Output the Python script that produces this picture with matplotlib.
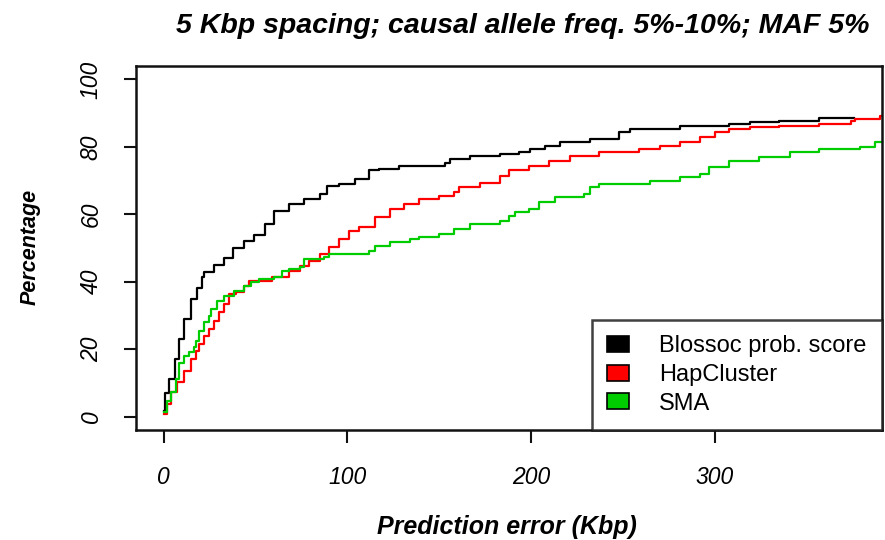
import matplotlib
matplotlib.use("Agg")
import matplotlib.pyplot as plt
from matplotlib.patches import Patch

# Cumulative percentage of runs whose prediction error is at most x (Kbp)
blossoc_x = [0, 1, 3, 6, 8.5, 11, 15, 18, 21, 22, 27.5, 33, 38, 44, 49, 55, 60, 68,
             76.5, 85, 89, 95.6, 104, 112, 117, 128, 153, 155.7, 166.6, 183, 193.7,
             199.2, 207.4, 215.5, 232, 248, 254, 281, 308, 319, 335, 357, 376]
blossoc_y = [1.5, 7, 11, 17, 23, 29, 35, 38, 41.5, 43, 45, 47, 50, 52, 54, 57, 61, 63,
             64.5, 66, 68.4, 69, 70.5, 73, 73.5, 74.3, 75.2, 76.4, 77.4, 78, 78.4,
             79.4, 80.2, 81.5, 82.4, 84.4, 85.4, 86.2, 86.8, 87.3, 87.8, 88.5, 88.5]

hapcluster_x = [0, 2, 4, 7.4, 11, 15, 17.7, 19.3, 22, 24.8, 27.5, 30, 33, 35.7, 39.5,
                44, 46.6, 59, 68, 74, 79, 85, 90, 95.6, 101, 106.5, 115, 123, 131,
                139, 150, 158, 161, 172, 183, 188, 199, 210, 221, 237, 259, 270, 281,
                292, 300, 308, 319, 335, 357, 374, 376.5, 390, 400]
hapcluster_y = [0.7, 3.7, 7.2, 10.2, 13.5, 17, 19.4, 21.5, 24, 26, 28.3, 31, 33.4,
                36.3, 37, 38.8, 40.2, 41.4, 43.3, 44.7, 46.2, 48.2, 50.2, 52.7, 55.1,
                56.1, 59.1, 61.6, 63, 64.6, 65.5, 66.5, 68, 69.3, 71.5, 73, 74.4,
                75.9, 77.4, 78.4, 79.4, 80.4, 81.4, 82.9, 84.4, 85.4, 85.9, 86.3,
                86.8, 87.8, 88.3, 89.3, 89.3]

sma_x = [0, 2, 4, 7, 8.4, 11, 14, 16.6, 17.7, 19.3, 22, 24.8, 26, 29, 33, 38.4, 44,
         47.7, 52, 60, 64.6, 68, 74, 76.6, 87.5, 90, 112, 115, 123, 134, 139, 150,
         158, 166.6, 183, 188, 191, 199, 204.6, 213, 229, 232, 237, 264.6, 281, 292,
         297, 308, 324, 341, 357, 379, 387, 400]
sma_y = [1.3, 4.6, 7.2, 11, 16, 18, 19, 20.6, 22.5, 25.4, 28, 29.9, 31.9, 34.3, 35.8,
         37.3, 38.8, 39.8, 40.8, 41.3, 43.3, 43.8, 44.3, 46.7, 47.2, 48.2, 49.2, 50.7,
         51.7, 52.7, 53.2, 54.2, 55.6, 57.1, 58.1, 59.6, 60.6, 61.6, 63.6, 65.1,
         66.1, 68, 69, 70, 71, 72, 74, 75.9, 76.9, 78.4, 79.4, 79.9, 81.4, 81.9]

series_labels = ["Blossoc prob. score", "HapCluster", "SMA"]
series_colors = ["#000000", "#ff0000", "#00cd00"]
x_ticks = [0, 100, 200, 300]
y_ticks = [0, 20, 40, 60, 80, 100]

title = "5 Kbp spacing; causal allele freq. 5%-10%; MAF 5%"
x_label = "Prediction error (Kbp)"
y_label = "Percentage"

plt.rcParams["font.family"] = ["Liberation Sans", "DejaVu Sans"]

fig = plt.figure(figsize=(8.85, 5.4), dpi=100)
ax = fig.add_axes([136 / 885, 1 - 430 / 540, (882 - 136) / 885, (430 - 66) / 540])

series = [(blossoc_x, blossoc_y), (hapcluster_x, hapcluster_y), (sma_x, sma_y)]
for (xs, ys), col in zip(series, series_colors):
    ax.plot(xs, ys, drawstyle="steps-post", color=col, lw=1.6, clip_on=True)

xr = max(blossoc_x) - min(blossoc_x)
ax.set_xlim(min(blossoc_x) - 0.04 * xr, max(blossoc_x) + 0.04 * xr)
ax.set_ylim(-4, 104)

ax.set_xticks(x_ticks)
ax.set_yticks(y_ticks)
ax.set_xticklabels([str(v) for v in x_ticks], fontsize=16.5, style="italic")
ax.set_yticklabels([str(v) for v in y_ticks], fontsize=16.5, style="italic",
                   rotation=90, va="center")
ax.tick_params(axis="both", direction="out", length=9, width=1.5, color="#111111")
ax.tick_params(axis="x", pad=17)
ax.tick_params(axis="y", pad=15)
for sp in ax.spines.values():
    sp.set_linewidth(1.8)
    sp.set_color("#111111")

fig.text((136 + 882) / 2 / 885 + 0.015, 1 - 26 / 540, title, ha="center", va="center",
         fontsize=20.5, fontweight="bold", style="italic")
fig.text(507 / 885, 1 - 527 / 540, x_label, ha="center", va="center",
         fontsize=18, fontweight="bold", style="italic")
fig.text(30 / 885, 1 - 247 / 540, y_label, ha="center", va="center", rotation=90,
         fontsize=15.5, fontweight="bold", style="italic")

handles = [Patch(facecolor=c, edgecolor="#000000", lw=1.2) for c in series_colors]
leg = ax.legend(handles, series_labels, loc="lower right", fontsize=17,
                frameon=True, fancybox=False, borderaxespad=0,
                handlelength=0.9, handleheight=0.65, handletextpad=1.3,
                borderpad=0.65, labelspacing=0.28)
leg.get_frame().set_edgecolor("#111111")
leg.get_frame().set_linewidth(1.8)

fig.savefig("out.png", dpi=100)
